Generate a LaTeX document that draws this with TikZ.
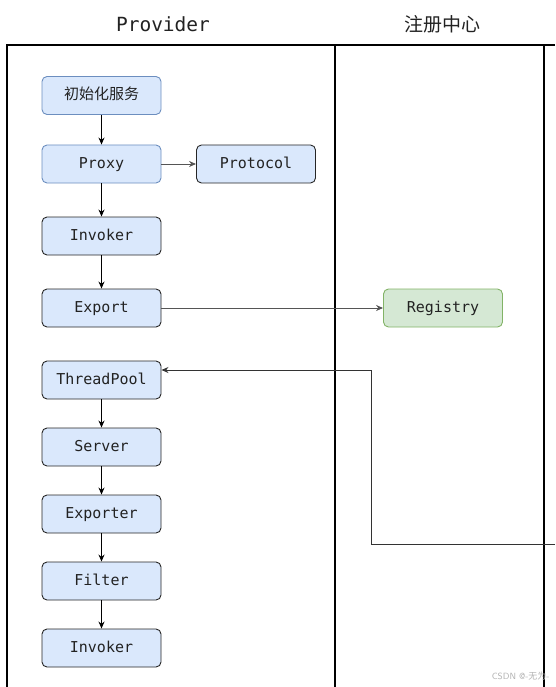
\documentclass[tikz,border=0pt]{standalone}
\usepackage{fontspec}
\setmonofont{DejaVu Sans Mono}
\newfontfamily\cjk{Noto Sans CJK SC}
\usetikzlibrary{arrows.meta}
\definecolor{bluefill}{HTML}{DAE8FC}
\definecolor{blueline}{HTML}{6C8EBF}
\definecolor{greenfill}{HTML}{D5E8D4}
\definecolor{greenline}{HTML}{82B366}
\definecolor{txt}{HTML}{222222}
\definecolor{conn}{HTML}{555555}
\begin{document}
\begin{tikzpicture}[x=1pt,y=-1pt,
  box/.style={draw=black!85,line width=0.9pt,fill=bluefill,rounded corners=5pt,
    minimum width=119pt,minimum height=38pt,inner sep=0pt,
    text height=11pt,text depth=3pt,
    font=\ttfamily\fontsize{15}{17}\selectfont,text=txt},
  bluebox/.style={box,draw=blueline},
  greenbox/.style={box,fill=greenfill,draw=greenline},
  lane/.style={line width=2pt,black},
  arr/.style={-{Stealth[length=7pt,width=6pt]},line width=0.9pt,black},
  garr/.style={arr,conn},
  head/.style={font=\fontsize{19.5}{22}\selectfont,text=txt}]
\useasboundingbox (0,0) rectangle (555,687);
% lanes
\coordinate (tl) at (7,45);
\coordinate (tr) at (555,45);
\draw[lane] (7,687) -- (tl) -- (tr);
\draw[lane] (335,45) -- (335,687);
\draw[lane] (544,45) -- (544,687);
\node[head,font=\ttfamily\fontsize{19.5}{22}\selectfont] (hp) at (163,24) {Provider};
\node[head,font=\cjk\fontsize{19}{22}\selectfont] (hr) at (442,24) {注册中心};
% nodes
\node[bluebox,font=\cjk\fontsize{15}{17}\selectfont] (init) at (101.5,95.5) {初始化服务};
\node[bluebox] (proxy) at (101.5,164) {Proxy};
\node[box] (protocol) at (256,164) {Protocol};
\node[box] (invoker) at (101.5,236) {Invoker};
\node[box] (export) at (101.5,308) {Export};
\node[greenbox] (registry) at (443,308) {Registry};
\node[box] (tp) at (101.5,380) {ThreadPool};
\node[box] (server) at (101.5,447) {Server};
\node[box] (exporter) at (101.5,514) {Exporter};
\node[box] (filter) at (101.5,581) {Filter};
\node[box] (invoker2) at (101.5,648) {Invoker};
% connectors
\draw[arr] (init) -- (proxy);
\draw[garr] (proxy) -- (protocol);
\draw[arr] (proxy) -- (invoker);
\draw[arr] (invoker) -- (export);
\draw[garr] (export) -- (registry);
\draw[arr] (tp) -- (server);
\draw[arr] (server) -- (exporter);
\draw[arr] (exporter) -- (filter);
\draw[arr] (filter) -- (invoker2);
\coordinate (src) at (555,544);
\draw[arr,draw=black!80] (src) -- (371,544) -- (371,370) -- ([yshift=10pt]tp.east);
% watermark
\node[font=\fontsize{9}{10}\selectfont\sffamily,text=black!30,anchor=east] (wm) at (553,676) {CSDN @-{\cjk 无为}-};
\end{tikzpicture}
\end{document}
